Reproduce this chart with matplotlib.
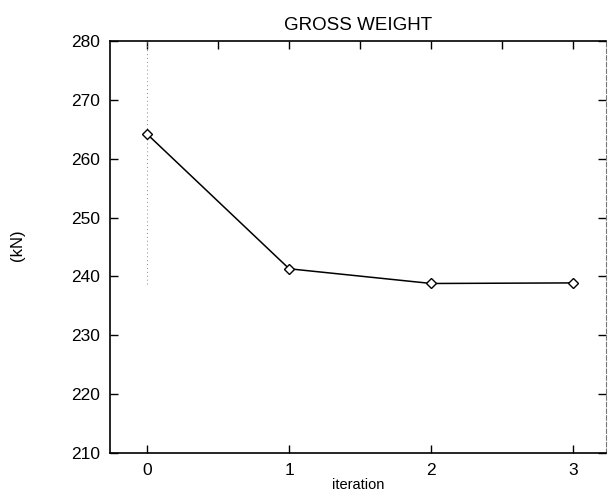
import matplotlib
matplotlib.use("Agg")
import matplotlib.pyplot as plt
from matplotlib.ticker import MultipleLocator

plt.rcParams['font.family'] = ['Liberation Sans', 'DejaVu Sans']

iterations = [0, 1, 2, 3]
gross_weight = [264.2, 241.3, 238.8, 238.9]
y_ticks = [210, 220, 230, 240, 250, 260, 270, 280]
x_ticks = [0, 1, 2, 3]

fig = plt.figure(figsize=(6.08, 5.00), dpi=100)
ax = fig.add_axes([0.181, 0.094, 0.816, 0.824])

ax.plot(iterations, gross_weight, color='black', lw=1.1,
        marker='D', markersize=5, markerfacecolor='white',
        markeredgecolor='black', markeredgewidth=1.0, zorder=3)

# faint dotted trace at iteration 0
ax.axvline(0, ymin=0.41, ymax=1.0, color='#888888', lw=0.7, ls=(0, (1, 3)), zorder=1)

ax.set_xlim(-0.26, 3.23)
ax.set_ylim(210, 280)
ax.set_xticks(x_ticks)
ax.set_yticks(y_ticks)
ax.tick_params(axis='both', direction='in', length=6, width=1.0,
               labelsize=12.5, colors='black')
ax.tick_params(axis='x', pad=7)
ax.tick_params(axis='y', pad=7, right=True)

# top ticks at half steps
sec = ax.secondary_xaxis('top')
sec.xaxis.set_major_locator(MultipleLocator(0.5))
sec.tick_params(direction='in', length=6, width=1.0, labeltop=False)
sec.spines['top'].set_visible(False)

for s in ['left', 'bottom', 'top']:
    ax.spines[s].set_linewidth(1.2)
ax.spines['right'].set_linewidth(0.8)
ax.spines['right'].set_linestyle((0, (4, 2)))
ax.spines['right'].set_color('#777777')

ax.set_title('GROSS WEIGHT', fontsize=13.5, pad=8)
ax.set_xlabel('iteration', fontsize=10.5, labelpad=0)
fig.text(0.028, 0.51, '(kN)', rotation=90, fontsize=12, ha='center', va='center')

fig.savefig('out.png', dpi=100)
